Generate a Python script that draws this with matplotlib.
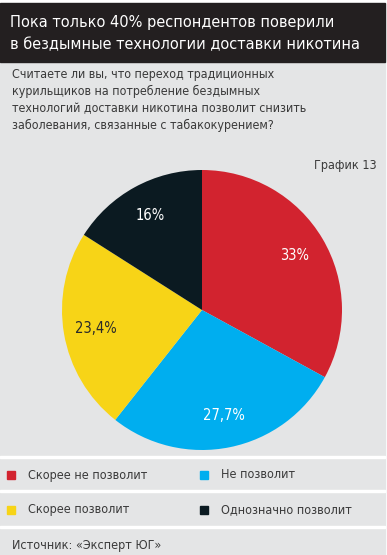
import matplotlib
matplotlib.use("Agg")
import matplotlib.pyplot as plt
from matplotlib.patches import Rectangle

# Data
categories = ["Скорее не позволит", "Не позволит", "Скорее позволит", "Однозначно позволит"]
values = [33.0, 27.7, 23.4, 16.0]
value_labels = ["33%", "27,7%", "23,4%", "16%"]
colors = ["#d2232f", "#00aeef", "#f7d417", "#0b1a21"]
label_colors = ["white", "white", "#2a2a2a", "white"]

title = "Пока только 40% респондентов поверили\nв бездымные технологии доставки никотина"
question = ("Считаете ли вы, что переход традиционных\n"
            "курильщиков на потребление бездымных\n"
            "технологий доставки никотина позволит снизить\n"
            "заболевания, связанные с табакокурением?")
chart_no = "График 13"
source = "Источник: «Эксперт ЮГ»"

W, H = 387, 555
bg = "#e4e5e6"
txt = "#3a3a3a"
plt.rcParams['font.family'] = ['DejaVu Sans']
plt.rcParams['font.stretch'] = 'condensed'

fig = plt.figure(figsize=(W / 100, H / 100), dpi=100)
fig.patch.set_facecolor("white")


def px(x, y):
    # pixel coords (top-left origin) -> figure fraction
    return x / W, 1 - y / H


def rect(x0, y0, x1, y1, color, z=-1):
    fig.patches.append(Rectangle((x0 / W, 1 - y1 / H), (x1 - x0) / W, (y1 - y0) / H,
                                 transform=fig.transFigure, color=color, zorder=z))


# background panels
rect(0, 62, 385, H, bg)
rect(0, 3, 385, 62, "#231f20")

fig.text(*px(10, 34), title, color="white", fontsize=11.7, va="center", ha="left",
         linespacing=1.6)
fig.text(*px(12, 100), question, color=txt, fontsize=8.9, va="center", ha="left",
         linespacing=1.42)
fig.text(*px(377, 165), chart_no, color=txt, fontsize=9, va="center", ha="right")

# pie
cx, cy, r = 202, 310, 140
ax = fig.add_axes([(cx - r) / W, 1 - (cy + r) / H, 2 * r / W, 2 * r / H], zorder=2)
wedges, texts = ax.pie(values, colors=colors, startangle=90, counterclock=False,
                       labels=value_labels, labeldistance=0.77, radius=1,
                       wedgeprops=dict(linewidth=0))
for t, c in zip(texts, label_colors):
    t.set_color(c)
    t.set_fontsize(10.5)
    t.set_ha("center")
    t.set_va("center")
ax.set_xlim(-1, 1)
ax.set_ylim(-1, 1)
ax.set_aspect("equal")
ax.axis("off")

# separators
for y in [457, 491, 527]:
    rect(0, y - 1, 385, y + 1, "white", z=1)

# legend
legend_pos = [(7, 475), (200, 475), (7, 510), (200, 510)]
for (x, y), name, c in zip(legend_pos, categories, colors):
    rect(x, y - 4, x + 8, y + 4, c, z=1)
    fig.text(*px(x + 21, y), name, color=txt, fontsize=9, va="center", ha="left")

fig.text(*px(12, 546), source, color=txt, fontsize=9, va="center", ha="left")

fig.savefig("out.png", dpi=100, facecolor=fig.get_facecolor())
